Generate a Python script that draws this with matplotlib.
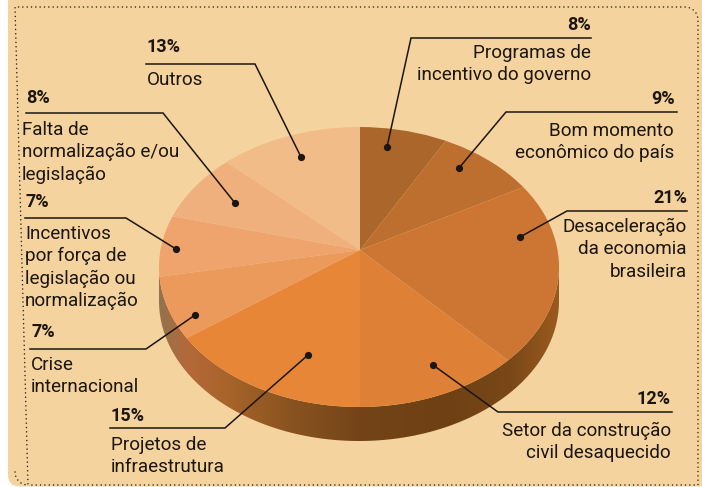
import numpy as np
import matplotlib
matplotlib.use("Agg")
import matplotlib.pyplot as plt
from matplotlib.colors import LinearSegmentedColormap
from matplotlib.patches import FancyBboxPatch, Polygon, Ellipse

plt.rcParams['font.family'] = ['Roboto', 'DejaVu Sans']

# --- data ---
values = [8, 9, 21, 12, 15, 7, 7, 8, 13]
percent_labels = ['8%', '9%', '21%', '12%', '15%', '7%', '7%', '8%', '13%']
names = ['Programas de\nincentivo do governo',
         'Bom momento\neconômico do país',
         'Desaceleração\nda economia\nbrasileira',
         'Setor da construção\ncivil desaquecido',
         'Projetos de\ninfraestrutura',
         'Crise\ninternacional',
         'Incentivos\npor força de\nlegislação ou\nnormalização',
         'Falta de\nnormalização e/ou\nlegislação',
         'Outros']
slice_colors = ['#AB662B', '#BD6F2F', '#CD7634', '#DE8036', '#E78636',
                '#EC9A5C', '#EEA46C', '#EFB07E', '#F2BC88']

# --- layout (pixels, origin at top left) ---
W, H = 702, 487
cx, cy, rx, ry, depth = 359, 267, 200, 140, 34
apex_x, apex_y = 360, 250
# leader: (outer x, rule y, elbow x, dot x, dot y)
leaders = [(591, 38, 411, 387, 147), (677, 112, 506, 459, 168),
           (687, 211, 567, 520, 237), (672, 412, 498, 433, 365),
           (110, 428, 225, 308, 355), (30, 349, 146, 195, 315),
           (25, 218, 126, 176, 249), (26, 113, 163, 235, 203),
           (146, 64, 255, 301, 157)]
# text: (ha, pct x, pct y, name x, first-line y)
text_pos = [('right', 591, 25, 591, 53), ('right', 675, 99, 674, 131),
            ('right', 687, 198, 687, 227), ('right', 671, 399, 671, 431),
            ('left', 111, 416, 111, 445), ('left', 31, 332, 31, 365),
            ('left', 26, 202, 25, 234), ('left', 26, 98, 22, 130),
            ('left', 147, 47, 147, 80)]
line_step = 22.4
name_size = 13.6
pct_size = 13

fig = plt.figure(figsize=(W / 100, H / 100), dpi=100, facecolor='white')

# background axes
bg = fig.add_axes([0, 0, 1, 1], zorder=0)
bg.set_xlim(0, W); bg.set_ylim(H, 0); bg.axis('off')
bg.add_patch(FancyBboxPatch((8, -30), W + 40, H + 30 - 0.5,
                            boxstyle='round,pad=0,rounding_size=12',
                            fc='#F4D39F', ec='none', zorder=1))

# dotted border
b_l, b_t, b_r, b_b, rad = 15, 7, 698, 485, 13
t = np.linspace(0, np.pi / 2, 12)
bx = np.r_[b_l + rad - rad * np.sin(t[::-1]), b_l,
           b_r - rad + rad * np.sin(t), b_r, b_l + rad]
by = np.r_[b_b - rad + rad * np.cos(t[::-1]), b_t,
           b_t + rad - rad * np.cos(t), b_b, b_b]
bg.plot(bx, by, color='#2a2015', lw=1.15, ls=(0, (0.01, 2.7)),
        dash_capstyle='round', zorder=2)

# pie side
a = np.linspace(0, np.pi, 200)
side_x = np.r_[cx + rx * np.cos(a), cx + rx * np.cos(a[::-1])]
side_y = np.r_[cy + depth + ry * np.sin(a), cy + ry * np.sin(a[::-1])]
side = Polygon(np.c_[side_x, side_y], closed=True, fc='none', ec='none', zorder=1)
bg.add_patch(side)
side_cmap = LinearSegmentedColormap.from_list(
    'side', [(0, '#94734D'), (0.07, '#B5683A'), (0.17, '#A8642A'), (0.32, '#8A5420'),
             (0.5, '#744418'), (0.72, '#6E4014'), (0.88, '#7A4818'), (1, '#9A5A1E')])
img = bg.imshow(np.linspace(0, 1, 256)[None, :], cmap=side_cmap, aspect='auto',
                extent=(cx - rx, cx + rx, cy + ry + depth, cy), zorder=1.5)
img.set_clip_path(side)
bg.set_xlim(0, W); bg.set_ylim(H, 0)

# pie: wedges radiate from the off-centre apex and are cut to the top ellipse
pie_ax = fig.add_axes([(cx - rx) / W, 1 - (cy + ry) / H, 2 * rx / W, 2 * ry / H], zorder=1)
wedges, _ = pie_ax.pie(values, colors=slice_colors, startangle=90, counterclock=False,
                       center=((apex_x - cx) / rx, (cy - apex_y) / ry), radius=2.5,
                       wedgeprops={'linewidth': 0})
pie_ax.set_aspect('auto')
pie_ax.set_xlim(-1, 1); pie_ax.set_ylim(-1, 1)
rim = Ellipse((0, 0), 2, 2, transform=pie_ax.transData, fc='none', ec='none')
pie_ax.add_patch(rim)
for w in wedges:
    w.set_clip_on(True)
    w.set_clip_path(rim)

# annotations
ov = fig.add_axes([0, 0, 1, 1], zorder=2)
ov.set_xlim(0, W); ov.set_ylim(H, 0); ov.axis('off'); ov.patch.set_alpha(0)
ink = '#1c1610'
for pct, name, ld, tp in zip(percent_labels, names, leaders, text_pos):
    x0, y0, xe, xd, yd = ld
    ov.plot([x0, xe, xd], [y0, y0, yd], color=ink, lw=1.1, solid_joinstyle='miter')
    ov.plot([xd], [yd], 'o', color=ink, ms=4.2)
    ha, px, py, nx, ny = tp
    ov.text(px, py, pct, ha=ha, va='center', fontsize=pct_size, fontweight='bold', color=ink)
    for i, ln in enumerate(name.split('\n')):
        ov.text(nx, ny + i * line_step, ln, ha=ha, va='center', fontsize=name_size, color=ink)

fig.savefig('out.png', dpi=100, facecolor='white')
